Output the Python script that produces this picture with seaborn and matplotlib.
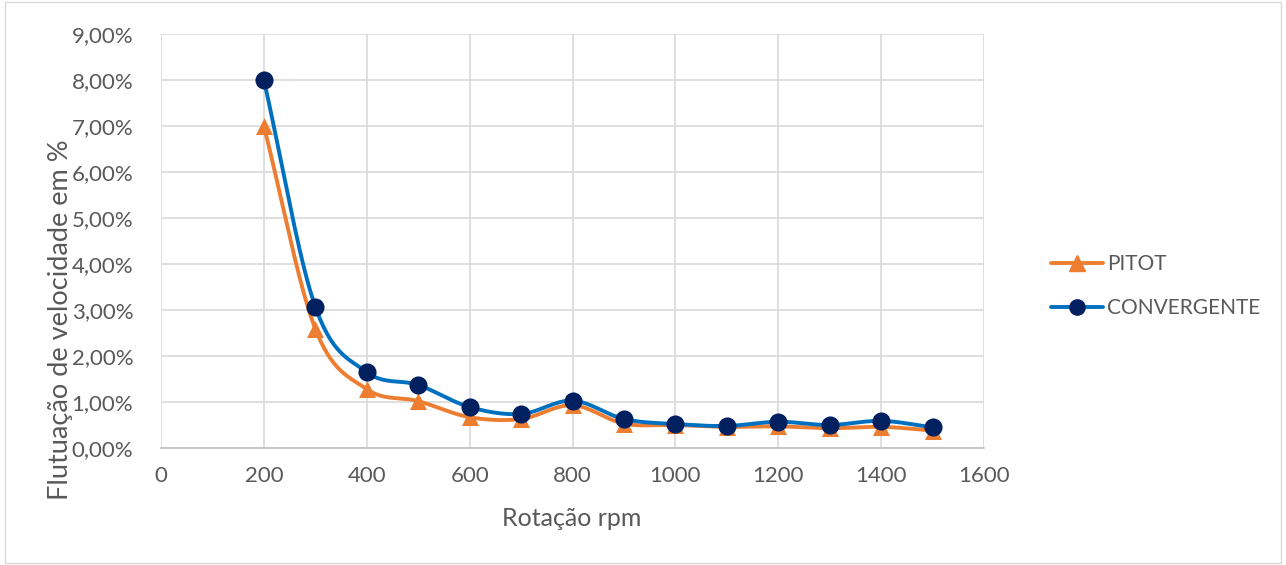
import numpy as np
import pandas as pd
import matplotlib
matplotlib.use("Agg")
import matplotlib.pyplot as plt
import seaborn as sns
from matplotlib.ticker import FuncFormatter, MultipleLocator

rpm = [200, 300, 400, 500, 600, 700, 800, 900, 1000, 1100, 1200, 1300, 1400, 1500]
pitot = [7.00, 2.59, 1.28, 1.02, 0.67, 0.63, 0.93, 0.53, 0.50, 0.46, 0.47, 0.43, 0.46, 0.38]
convergente = [8.00, 3.07, 1.65, 1.37, 0.89, 0.74, 1.03, 0.63, 0.52, 0.48, 0.57, 0.50, 0.59, 0.45]
series_names = ["PITOT", "CONVERGENTE"]

sns.set_theme(style="white")
plt.rcParams['font.family'] = ['Lato', 'DejaVu Sans']

def smooth(x, y, n=30):
    x = np.asarray(x, float); y = np.asarray(y, float)
    px = np.concatenate([[2*x[0]-x[1]], x, [2*x[-1]-x[-2]]])
    py = np.concatenate([[2*y[0]-y[1]], y, [2*y[-1]-y[-2]]])
    xs, ys = [], []
    t = np.linspace(0, 1, n, endpoint=False)
    for i in range(1, len(px)-2):
        for arr, out in ((px, xs), (py, ys)):
            p0, p1, p2, p3 = arr[i-1], arr[i], arr[i+1], arr[i+2]
            m1 = (p2 - p0) / 2
            m2 = (p3 - p1) / 2
            h00 = 2*t**3 - 3*t**2 + 1
            h10 = t**3 - 2*t**2 + t
            h01 = -2*t**3 + 3*t**2
            h11 = t**3 - t**2
            out.extend(h00*p1 + h10*m1 + h01*p2 + h11*m2)
    xs.append(x[-1]); ys.append(y[-1])
    return np.array(xs), np.array(ys)

fig = plt.figure(figsize=(12.86, 5.65), dpi=100)
ax = fig.add_axes([161/1286, 1-448/565, (984-161)/1286, (448-34)/565])

line_colors = ["#ED7D31", "#0070C0"]
marker_colors = ["#ED7D31", "#002060"]
markers = ["^", "o"]
sizes = [150, 170]
for name, vals, lc, mc, mk, sz in zip(series_names, [pitot, convergente], line_colors, marker_colors, markers, sizes):
    sx, sy = smooth(rpm, vals)
    sns.lineplot(x=sx, y=sy, ax=ax, color=lc, linewidth=2.8, sort=False, estimator=None)
    sns.scatterplot(x=rpm, y=vals, ax=ax, color=mc, marker=mk, s=sz, edgecolor=mc, linewidth=0, zorder=5)

ax.set_xlim(0, 1600)
ax.set_ylim(0, 9)
ax.xaxis.set_major_locator(MultipleLocator(200))
ax.yaxis.set_major_locator(MultipleLocator(1))
ax.yaxis.set_major_formatter(FuncFormatter(lambda v, p: f"{v:.2f}%".replace(".", ",")))
ax.grid(True, color="#d9d9d9", linewidth=1.2)
ax.set_axisbelow(True)
for s in ["top", "right", "left"]:
    ax.spines[s].set_visible(False)
ax.spines["bottom"].set_color("#bfbfbf")
ax.spines["bottom"].set_linewidth(1.2)
ax.tick_params(axis="both", colors="#595959", labelsize=16, length=0)
ax.tick_params(axis="x", pad=13)
ax.tick_params(axis="y", pad=20)
ax.set_xlabel("Rotação rpm", color="#595959", fontsize=18)
ax.set_ylabel("Flutuação de velocidade em %", color="#595959", fontsize=19.5)
ax.xaxis.set_label_coords((572-161)/823, -(519-448)/414)
ax.yaxis.set_label_coords((60-161)/823, (448-320)/414)
ax.xaxis.label.set_verticalalignment("center")
ax.yaxis.label.set_verticalalignment("center")

from matplotlib.lines import Line2D
handles = [Line2D([0], [0], color=lc, lw=2.8, marker=mk, markersize=11, markerfacecolor=mc, markeredgecolor=mc)
           for lc, mc, mk in zip(line_colors, marker_colors, markers)]
leg = fig.legend(handles, series_names, loc="center left", bbox_to_anchor=(1032/1286, 1-286/565),
                 frameon=False, fontsize=15, labelspacing=1.15, handlelength=2.5, handletextpad=0.2)
for t in leg.get_texts():
    t.set_color("#595959")

fig.patches.append(matplotlib.patches.Rectangle((0.004, 0.004), 0.992, 0.992, transform=fig.transFigure,
                   fill=False, edgecolor="#d9d9d9", linewidth=1))
fig.savefig("out.png", dpi=100, facecolor="white")
